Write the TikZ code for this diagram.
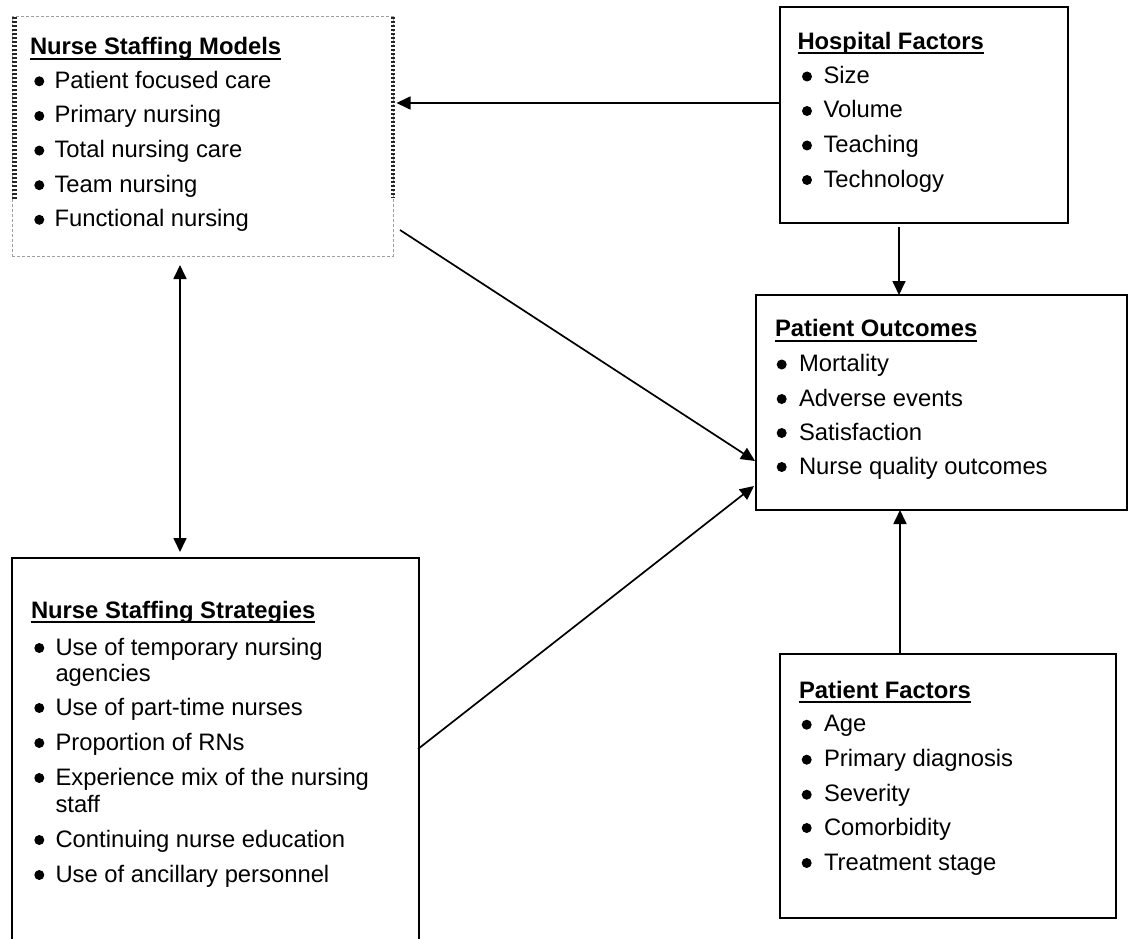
\documentclass[tikz,border=0pt]{standalone}
\usepackage{fontspec}
\setmainfont{Liberation Sans}
\usetikzlibrary{arrows.meta,calc}
\newcommand{\ttl}[1]{\setbox0=\hbox{\bfseries #1}\rlap{\rule[-5pt]{\wd0}{2pt}}\box0}
\begin{document}
\begin{tikzpicture}[x=1pt,y=-1pt,
  box/.style={draw, line width=2pt, inner sep=0pt, outer sep=0pt, anchor=north west},
  txt/.style={anchor=base west, inner sep=0pt, outer sep=0pt, font=\fontsize{23.8}{28}\selectfont},
  arr/.style={line width=1.7pt, -{Triangle[length=14pt,width=13pt]}},
  darr/.style={line width=1.7pt, {Triangle[length=14pt,width=13pt]}-{Triangle[length=14pt,width=13pt]}},
  bul/.style={fill=black}
  ]
\useasboundingbox (0,0) rectangle (1130,939);

% boxes
\node[box, draw=gray!75, line width=0.9pt, dash pattern=on 3pt off 2pt,
      minimum width=381pt, minimum height=240pt] (models) at (12,16) {};
\draw[line width=4.2pt, black!85, dash pattern=on 2.4pt off 1.6pt]
  ($(models.north west)+(2.5,1)$) -- ($(models.north west)+(2.5,184)$);
\draw[line width=4.2pt, black!85, dash pattern=on 2.4pt off 1.6pt]
  ($(models.north east)+(0,1)$) -- ($(models.north east)+(0,182)$);

\node[box, minimum width=288pt, minimum height=216pt] (hosp) at (780,7) {};
\node[box, minimum width=371pt, minimum height=215pt] (outc) at (756,295) {};
\node[box, minimum width=407pt, minimum height=400pt] (strat) at (12,558) {};
\node[box, minimum width=336pt, minimum height=264pt] (pf) at (780,654) {};

% Nurse Staffing Models
\node[txt] (mt) at (30,55) {\ttl{Nurse Staffing Models}};
\foreach \y/\t [count=\i] in {88.3/Patient focused care, 123/Primary nursing, 157.6/Total nursing care, 192.2/Team nursing, 226.8/Functional nursing}{
  \fill[bul] (39.3,\y-7) circle (5);
  \node[txt] (m\i) at (54.5,\y) {\t};
}

% Hospital Factors
\node[txt] (ht) at (797.5,49.3) {\ttl{Hospital Factors}};
\foreach \y/\t [count=\i] in {83.5/Size, 118/Volume, 152.5/Teaching, 187/Technology}{
  \fill[bul] (807,\y-7) circle (5);
  \node[txt] (h\i) at (823.5,\y) {\t};
}

% Patient Outcomes
\node[txt] (ot) at (775,336.7) {\ttl{Patient Outcomes}};
\foreach \y/\t [count=\i] in {371.5/Mortality, 406/Adverse events, 440/Satisfaction, 474/Nurse quality outcomes}{
  \fill[bul] (781.7,\y-7) circle (5);
  \node[txt] (o\i) at (799,\y) {\t};
}

% Nurse Staffing Strategies
\node[txt] (st) at (31,618) {\ttl{Nurse Staffing Strategies}};
\foreach \y/\t [count=\i] in {655/Use of temporary nursing, 715/Use of part-time nurses, 750/Proportion of RNs, 785/Experience mix of the nursing, 847/Continuing nurse education, 882/Use of ancillary personnel}{
  \fill[bul] (39.3,\y-7) circle (5);
  \node[txt] (s\i) at (55.5,\y) {\t};
}
\node[txt] (s1b) at (55.5,681) {agencies};
\node[txt] (s4b) at (55.5,812.5) {staff};

% Patient Factors
\node[txt] (pt) at (799,698.3) {\ttl{Patient Factors}};
\foreach \y/\t [count=\i] in {731.7/Age, 766.7/Primary diagnosis, 801.7/Severity, 835/Comorbidity, 870/Treatment stage}{
  \fill[bul] (806.7,\y-7) circle (5);
  \node[txt] (p\i) at (824,\y) {\t};
}

% connectors
\draw[arr] ($(hosp.north west)+(0,96)$) -- ($(models.north east)+(3.5,87)$);
\draw[arr] ($(hosp.south west)+(119,4)$) -- ($(outc.north west)+(143,0)$);
\draw[arr] ($(models.north east)+(7,214)$) -- ($(outc.north west)+(-1,166)$);
\draw[arr] ($(strat.north east)+(-1,191)$) -- ($(outc.north west)+(-2,191)$);
\draw[arr] ($(pf.north west)+(120,0)$) -- ($(outc.south west)+(144,0)$);
\draw[darr] ($(models.south west)+(168,9)$) -- ($(strat.north west)+(168,-6)$);
\end{tikzpicture}
\end{document}
